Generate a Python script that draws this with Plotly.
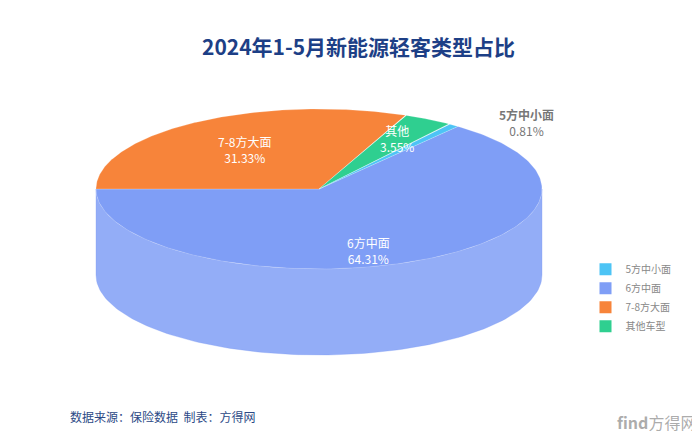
import numpy as np
import plotly.graph_objects as go

categories = ["5方中小面", "6方中面", "7-8方大面", "其他车型"]
values = [0.81, 64.31, 31.33, 3.55]
colors = ["#4dc4f5", "#7f9ef6", "#f7843a", "#2fcf90"]
side_colors = ["#6fd0f7", "#93adf7", "#f99a5a", "#4fd9a0"]
label_names = {"5方中小面": "5方中小面", "6方中面": "6方中面", "7-8方大面": "7-8方大面", "其他车型": "其他"}

order = ["6方中面", "7-8方大面", "其他车型", "5方中小面"]
cx, cy, rx, ry, depth = 311, 181, 223, 80, 86
start = 51.5

def pt(t, r=1.0, dz=0):
    a = np.radians(t)
    return cx + r * rx * np.cos(a), cy - r * ry * np.sin(a) + dz

fig = go.Figure()
total = sum(values)
slices = []
t0 = start
for name in order:
    v = values[categories.index(name)]
    span = v / total * 360
    slices.append((name, t0, t0 - span))
    t0 -= span

for name, a, b in slices:
    i = categories.index(name)
    lo, hi = max(b, -180), min(a, 0)
    if hi > lo:
        ts = np.linspace(hi, lo, 120)
        xs, ys = pt(ts)
        xb, yb = pt(ts[::-1], dz=depth)
        fig.add_trace(go.Scatter(x=np.r_[xs, xb, xs[0]], y=np.r_[ys, yb, ys[0]], fill="toself",
                                 fillcolor=side_colors[i], line=dict(color="rgba(120,150,240,0.6)", width=0.5),
                                 mode="lines", hoverinfo="skip", showlegend=False))

for name, a, b in slices:
    i = categories.index(name)
    ts = np.linspace(a, b, 200)
    xs, ys = pt(ts)
    fig.add_trace(go.Scatter(x=np.r_[cx, xs, cx], y=np.r_[cy, ys, cy], fill="toself",
                             fillcolor=colors[i], line=dict(color="rgba(255,255,255,0.4)", width=0.5),
                             mode="lines", hoverinfo="skip", showlegend=False))

for name, a, b in slices:
    i = categories.index(name)
    txt = f"{label_names[name]}<br>{values[i]:.2f}%"
    if name == "5方中小面":
        x, y = 518, 114
        col = "#777777"
        txt = f"<b>{label_names[name]}</b><br>{values[i]:.2f}%"
    elif name == "6方中面":
        x, y = 360, 242
        col = "white"
    else:
        m = (a + b) / 2
        r = 0.72 if name == "其他车型" else 0.6
        x, y = pt(m, r)
        col = "white"
    fig.add_annotation(x=x, y=y, text=txt, showarrow=False, font=dict(color=col, size=12, family="Noto Sans CJK SC"))

for name in categories:
    i = categories.index(name)
    fig.add_trace(go.Scatter(x=[None], y=[None], mode="markers", name=name,
                             marker=dict(symbol="square", size=9, color=colors[i])))

fig.add_annotation(x=350, y=38, text="<b>2024年1-5月新能源轻客类型占比</b>", showarrow=False,
                   font=dict(size=21, color="#1d3f86", family="Noto Sans CJK SC"))
fig.add_annotation(x=60, y=408, xanchor="left", text="数据来源：保险数据  制表：方得网", showarrow=False,
                   font=dict(size=12, color="#2c4a86", family="Noto Sans CJK SC"))
fig.add_annotation(x=690, y=414, xanchor="right", text="<b>find</b>方得网", showarrow=False,
                   font=dict(size=16, color="rgba(150,150,150,0.8)", family="Noto Sans CJK SC"))

fig.update_layout(
    width=700, height=433, margin=dict(l=0, r=0, t=0, b=0),
    plot_bgcolor="white", paper_bgcolor="white",
    xaxis=dict(range=[0, 700], visible=False, fixedrange=True),
    yaxis=dict(range=[433, 0], visible=False, fixedrange=True),
    legend=dict(x=0.825, y=0.43, yanchor="top", font=dict(size=10, color="#888888", family="Noto Sans CJK SC"),
                tracegroupgap=8, itemsizing="constant"),
)
fig.write_html("out.html")
